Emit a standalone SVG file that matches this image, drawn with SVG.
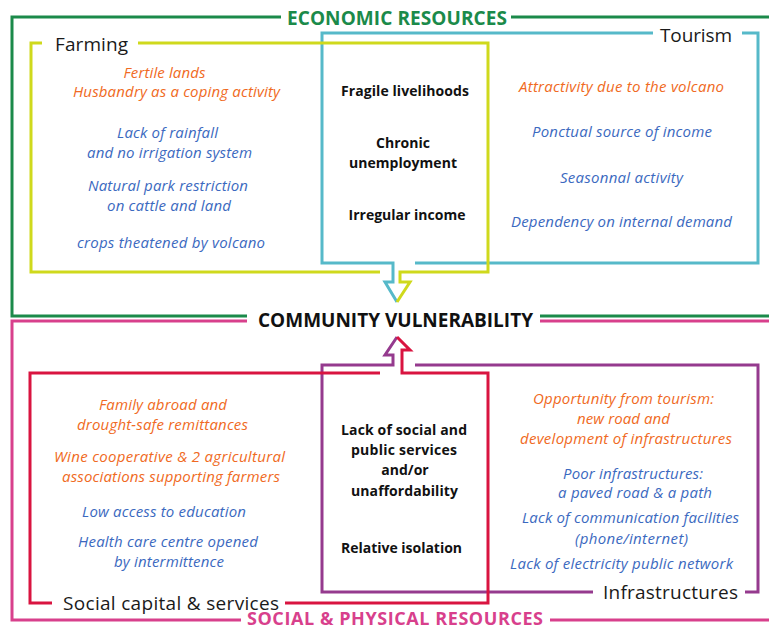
<svg xmlns="http://www.w3.org/2000/svg" width="769" height="630" viewBox="0 0 769 630">
<style>
.ln{fill:none;stroke-width:3;stroke-linejoin:miter}
.g{stroke:#1b8a4a}.y{stroke:#cfd91c}.c{stroke:#56b9c9}.p{stroke:#d8408c}.r{stroke:#d91440}.v{stroke:#953a8e}
text{font-family:"Open Sans","Noto Sans","Liberation Sans",sans-serif;text-anchor:middle}
.o{fill:#f06a23;font-style:italic;font-size:15px}
.b{fill:#3b69c0;font-style:italic;font-size:15px}
.k{fill:#111;font-weight:bold;font-size:14px}
.h{fill:#1a1a1a;font-size:19px}
.H{font-weight:bold;font-size:19px}
</style>
<rect width="769" height="630" fill="#fff"/>
<g id="connectors">
<path class="ln g" d="M247 316 L12 316 L12 17 L281 17 M511 17 L769 17 M540 316 L769 316"/>
<path class="ln p" d="M247 321 L12 321 L12 620 L241 620 M550 620 L769 620 M540 321 L769 321"/>
<path class="ln c" d="M653 33 L322 33 L322 263 L393 263 L393 282 L385 282 L397 302 M742 33 L758 33 L758 263 L415 263"/>
<path class="ln y" d="M42 43 L31 43 L31 272 L380 272 M138 43 L488 43 L488 272 L400 272 L400 282 L410 282 L397 302"/>
<path class="ln v" d="M593 592 L322 592 L322 365 L393 365 L393 355 L385 355 L397 337 M415 365 L758 365 L758 592 L745 592"/>
<path class="ln r" d="M380 373 L30 373 L30 603 L52 603 M285 603 L488 603 L488 373 L402 373 L402 350 L410 350 L397 337"/>
</g>
<g id="economic">
<text class="H" x="397" y="24.5" fill="#1b8a4a" textLength="220">ECONOMIC RESOURCES</text>
</g>
<g id="farming">
<text class="h" x="91.5" y="51" textLength="73">Farming</text>
<text class="o" x="164.5" y="78" textLength="82">Fertile lands</text>
<text class="o" x="176.5" y="97" textLength="207">Husbandry as a coping activity</text>
<text class="b" x="167.5" y="138" textLength="101">Lack of rainfall</text>
<text class="b" x="169.5" y="158" textLength="165">and no irrigation system</text>
<text class="b" x="168" y="191" textLength="160">Natural park restriction</text>
<text class="b" x="169" y="211" textLength="124">on cattle and land</text>
<text class="b" x="171" y="248" textLength="188">crops theatened by volcano</text>
</g>
<g id="economic-core">
<text class="k" x="405" y="96" textLength="128">Fragile livelihoods</text>
<text class="k" x="403" y="148">Chronic</text>
<text class="k" x="403" y="168" textLength="108">unemployment</text>
<text class="k" x="407" y="220" textLength="117">Irregular income</text>
</g>
<g id="tourism">
<text class="h" x="696" y="42" textLength="72">Tourism</text>
<text class="o" x="621.5" y="92" textLength="205">Attractivity due to the volcano</text>
<text class="b" x="622" y="137" textLength="180">Ponctual source of income</text>
<text class="b" x="621.5" y="183" textLength="123">Seasonnal activity</text>
<text class="b" x="621.5" y="227" textLength="221">Dependency on internal demand</text>
</g>
<g id="community">
<text class="H" x="395.5" y="327" fill="#111" textLength="275">COMMUNITY VULNERABILITY</text>
</g>
<g id="social-capital">
<text class="o" x="163" y="410" textLength="128">Family abroad and</text>
<text class="o" x="162.5" y="430" textLength="171">drought-safe remittances</text>
<text class="o" x="169.5" y="462" textLength="231">Wine cooperative &amp; 2 agricultural</text>
<text class="o" x="171" y="482" textLength="218">associations supporting farmers</text>
<text class="b" x="164" y="517" textLength="164">Low access to education</text>
<text class="b" x="168" y="547" textLength="180">Health care centre opened</text>
<text class="b" x="169" y="567" textLength="110">by intermittence</text>
<text class="h" x="171" y="610" textLength="216">Social capital &amp; services</text>
</g>
<g id="social-core">
<text class="k" x="404" y="435" textLength="126">Lack of social and</text>
<text class="k" x="404" y="455" textLength="106">public services</text>
<text class="k" x="405" y="475">and/or</text>
<text class="k" x="404.5" y="496" textLength="107">unaffordability</text>
<text class="k" x="401.5" y="553" textLength="121">Relative isolation</text>
</g>
<g id="infrastructures">
<text class="o" x="623.5" y="404" textLength="181">Opportunity from tourism:</text>
<text class="o" x="623.5" y="424" textLength="93">new road and</text>
<text class="o" x="626" y="444" textLength="212">development of infrastructures</text>
<text class="b" x="633" y="479" textLength="140">Poor infrastructures:</text>
<text class="b" x="635" y="498" textLength="154">a paved road &amp; a path</text>
<text class="b" x="630.5" y="523" textLength="217">Lack of communication facilities</text>
<text class="b" x="631.5" y="544" textLength="113">(phone/internet)</text>
<text class="b" x="621.5" y="569" textLength="223">Lack of electricity public network</text>
<text class="h" x="670.5" y="599" textLength="135">Infrastructures</text>
</g>
<g id="social-physical">
<text class="H" x="395" y="625" fill="#d8408c" style="font-size:18px" textLength="296">SOCIAL &amp; PHYSICAL RESOURCES</text>
</g>
</svg>
